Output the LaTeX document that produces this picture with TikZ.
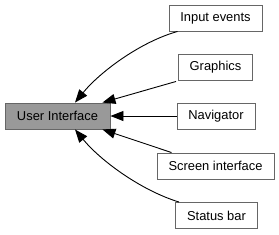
\documentclass[tikz,border=0pt]{standalone}
\usepackage{fontspec}
\setmainfont{Liberation Sans}
\usetikzlibrary{arrows.meta}
\definecolor{bordergray}{HTML}{666666}
\definecolor{fillgray}{HTML}{999999}
\tikzset{
  box/.style={draw=bordergray, line width=0.9pt, fill=white, minimum height=26pt, inner sep=0pt,
    font=\fontsize{12.9}{14}\selectfont, text=black},
  mainbox/.style={box, fill=fillgray},
  edge/.style={draw=black, line width=0.9pt, -{Triangle[length=13pt,width=10pt]}}
}
\begin{document}
\begin{tikzpicture}[x=1pt,y=-1pt]
\useasboundingbox (0,0) rectangle (279,234);
\node[mainbox, minimum width=105pt] (ui) at (57.5,116) {User Interface};
\node[box, minimum width=93pt] (ie) at (215.5,18) {Input events};
\node[box, minimum width=74pt] (gr) at (215.5,67) {Graphics};
\node[box, minimum width=78pt] (nav) at (216,116) {Navigator};
\node[box, minimum width=117pt] (si) at (215.5,166) {Screen interface};
\node[box, minimum width=82pt] (sb) at (216.5,215.5) {Status bar};
\draw[edge] ([xshift=9pt]ie.south west) .. controls (140,42) and (100,72) .. ([xshift=17.5pt]ui.north);
\draw[edge] ([xshift=-2pt,yshift=-1pt]gr.south west) -- ([xshift=-8pt]ui.north east);
\draw[edge] (nav.west) -- (ui.east);
\draw[edge] ([xshift=15pt]si.north west) -- ([xshift=-8pt]ui.south east);
\draw[edge] ([xshift=4pt]sb.north west) .. controls (140,190) and (100,160) .. ([xshift=17.5pt]ui.south);
\end{tikzpicture}
\end{document}
